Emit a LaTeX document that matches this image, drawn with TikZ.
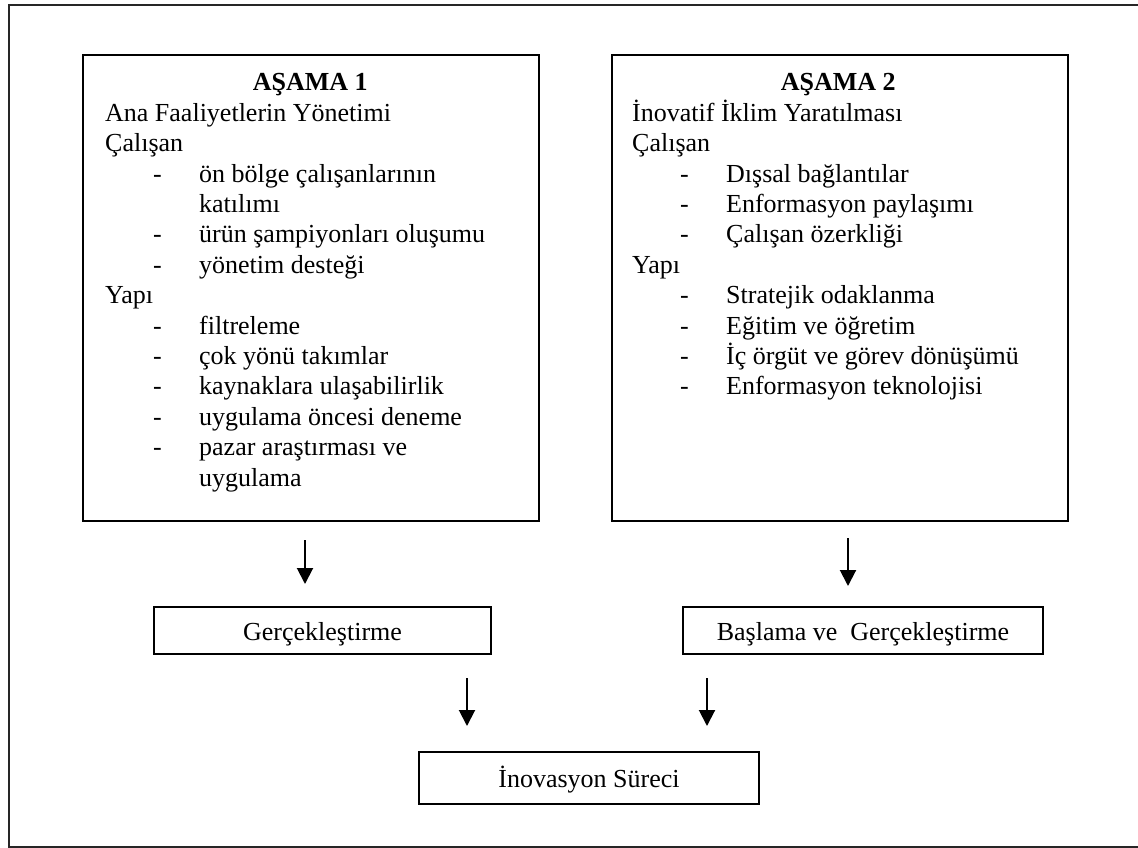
\documentclass[tikz,border=0pt]{standalone}
\usepackage{fontspec}
\setmainfont{Liberation Serif}
\usetikzlibrary{arrows.meta}
% list entries inside the stage boxes
\newcommand\stageitem[1]{\hspace*{48pt}\makebox[46pt][l]{-}#1}
\newcommand\stagecont[1]{\hspace*{94pt}#1}
\begin{document}
\begin{tikzpicture}[x=1pt,y=-1pt,
  frameline/.style={line width=2pt, draw=black!85},
  stagebox/.style={draw, line width=2pt, anchor=north west, minimum width=456pt, minimum height=466pt, inner sep=0pt},
  stagetext/.style={anchor=base west, inner sep=0pt, font=\fontsize{26}{30.4}\selectfont},
  stepbox/.style={draw, line width=2pt, inner sep=0pt, text height=19pt, text depth=0pt, font=\fontsize{26}{30}\selectfont},
  flow/.style={line width=2pt, -{Triangle[width=16pt,length=16pt]}}
]
\useasboundingbox (0,0) rectangle (1138,848);

% outer frame (right side runs off the page)
\draw[frameline] (1160,5) -- (9,5) -- (9,847) -- (1160,847);

% stage 1
\node[stagebox] (s1) at (82,54) {};
\node[stagetext] (s1text) at (105,91) {\parbox[t]{410pt}{%
  \makebox[410pt]{\textbf{AŞAMA 1}}\\
  Ana Faaliyetlerin Yönetimi\\
  Çalışan\\
  \stageitem{ön bölge çalışanlarının}\\
  \stagecont{katılımı}\\
  \stageitem{ürün şampiyonları oluşumu}\\
  \stageitem{yönetim desteği}\\
  Yapı\\
  \stageitem{filtreleme}\\
  \stageitem{çok yönü takımlar}\\
  \stageitem{kaynaklara ulaşabilirlik}\\
  \stageitem{uygulama öncesi deneme}\\
  \stageitem{pazar araştırması ve}\\
  \stagecont{uygulama}}};

% stage 2
\node[stagebox] (s2) at (611,54) {};
\node[stagetext] (s2text) at (632,91) {\parbox[t]{412pt}{%
  \makebox[412pt]{\textbf{AŞAMA 2}}\\
  İnovatif İklim Yaratılması\\
  Çalışan\\
  \stageitem{Dışsal bağlantılar}\\
  \stageitem{Enformasyon paylaşımı}\\
  \stageitem{Çalışan özerkliği}\\
  Yapı\\
  \stageitem{Stratejik odaklanma}\\
  \stageitem{Eğitim ve öğretim}\\
  \stageitem{İç örgüt ve görev dönüşümü}\\
  \stageitem{Enformasyon teknolojisi}}};

% outcome boxes
\node[stepbox, minimum width=337pt, minimum height=47pt] (g) at (322.5,630.5) {Gerçekleştirme};
\node[stepbox, minimum width=360pt, minimum height=47pt] (b) at (863,630.5) {Başlama ve~ Gerçekleştirme};
\node[stepbox, minimum width=340pt, minimum height=52pt] (p) at (589,778) {İnovasyon Süreci};

% arrow end points
\coordinate (a1s) at (305,540);
\coordinate (a1e) at (305,584);
\coordinate (a2s) at (848,538);
\coordinate (a2e) at (848,586);
\coordinate (a3s) at (467,678);
\coordinate (a3e) at (467,726);
\coordinate (a4s) at (707,678);
\coordinate (a4e) at (707,726);

\draw[flow] (a1s) -- (a1e);
\draw[flow] (a2s) -- (a2e);
\draw[flow] (a3s) -- (a3e);
\draw[flow] (a4s) -- (a4e);
\end{tikzpicture}
\end{document}
